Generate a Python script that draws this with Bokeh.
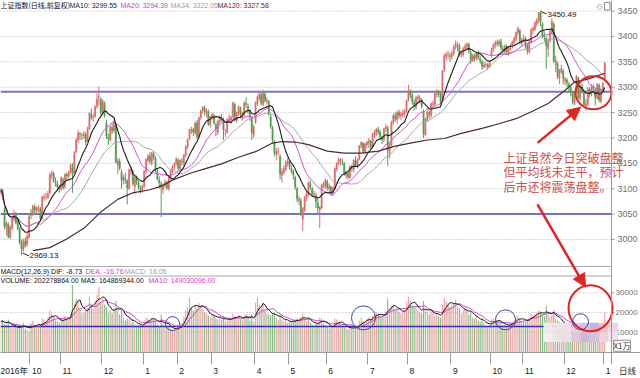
import pandas as pd
from bokeh.plotting import figure
from bokeh.models import (Range1d, FixedTicker, CustomJSTickFormatter, Span,
                          Arrow, NormalHead, Label, ColumnDataSource)
from bokeh.embed import file_html
from bokeh.resources import INLINE
from bokeh.core.properties import value

# ======================= DATA =======================
month_labels = ["2016年", "10", "11", "12", "1", "2", "3", "4", "5", "6",
                "7", "8", "9", "10", "11", "12", "1"]
month_counts = [16, 16, 22, 22, 18, 18, 23, 18, 20, 22, 21, 23, 21, 17, 22, 21, 1]
period_label = "日线"

opens = [
    3092, 3096, 3060, 3024, 3030, 3004, 3022, 3040, 3050, 3036, 3020, 2992, 2980, 2996, 2990, 3004,
    3052, 3050, 3064, 3056, 3060, 3060, 3042, 3082, 3084, 3082, 3092, 3126, 3130, 3114, 3110, 3102,
    3100, 3118, 3104, 3128, 3124, 3134, 3140, 3132, 3172, 3196, 3208, 3204, 3204, 3206, 3194, 3218, 3246, 3240, 3242, 3262, 3280, 3276,
    3250, 3268, 3230, 3202, 3196, 3220, 3214, 3226, 3146, 3154, 3132, 3116, 3120, 3116, 3100, 3136, 3134, 3104, 3120, 3112, 3098, 3098,
    3104, 3134, 3156, 3164, 3150, 3168, 3160, 3134, 3116, 3110, 3098, 3106, 3112, 3100, 3122, 3136, 3142, 3150,
    3156, 3140, 3154, 3150, 3166, 3182, 3198, 3214, 3216, 3210, 3230, 3204, 3240, 3254, 3258, 3250, 3252, 3226,
    3242, 3244, 3226, 3212, 3232, 3240, 3236, 3212, 3212, 3236, 3238, 3242, 3266, 3234, 3250, 3258, 3244, 3248, 3268, 3262, 3252, 3240, 3206,
    3230, 3268, 3278, 3284, 3266, 3286, 3272, 3272, 3242, 3220, 3192, 3168, 3172, 3164, 3126, 3132, 3138, 3150,
    3152, 3140, 3134, 3122, 3100, 3076, 3076, 3040, 3058, 3082, 3088, 3110, 3100, 3088, 3086, 3072, 3058, 3062, 3106, 3104,
    3114, 3100, 3104, 3090, 3100, 3138, 3150, 3156, 3154, 3150, 3126, 3130, 3122, 3142, 3138, 3156, 3144, 3158, 3184, 3190, 3172, 3186,
    3190, 3194, 3182, 3206, 3210, 3216, 3212, 3200, 3196, 3218, 3220, 3170, 3186, 3230, 3244, 3236, 3250, 3244, 3246, 3248, 3254,
    3274, 3290, 3284, 3270, 3260, 3278, 3278, 3274, 3252, 3206, 3236, 3250, 3244, 3266, 3266, 3286, 3290, 3286, 3276, 3334, 3360, 3364, 3362,
    3360, 3366, 3378, 3384, 3382, 3364, 3364, 3376, 3380, 3384, 3368, 3352, 3362, 3356, 3366, 3356, 3350, 3340, 3344, 3344, 3340,
    3362, 3374, 3382, 3388, 3384, 3390, 3376, 3370, 3380, 3366, 3376, 3380, 3388, 3394, 3408, 3412, 3386,
    3392, 3394, 3382, 3370, 3388, 3412, 3414, 3426, 3432, 3446, 3424, 3400, 3396, 3376, 3392, 3408, 3424, 3344, 3346, 3318, 3330, 3332,
    3312, 3314, 3306, 3300, 3290, 3268, 3290, 3318, 3278, 3302, 3288, 3264, 3266, 3296, 3286, 3300, 3294, 3278, 3304, 3272, 3294,
    3314,
]
highs = [
    3102, 3100, 3064, 3036, 3034, 3028, 3046, 3058, 3054, 3040, 3024, 3000, 3002, 3004, 3012, 3050,
    3060, 3068, 3070, 3066, 3068, 3064, 3086, 3090, 3092, 3096, 3132, 3136, 3134, 3122, 3116, 3108,
    3124, 3122, 3130, 3132, 3136, 3150, 3150, 3174, 3200, 3216, 3212, 3210, 3214, 3212, 3222, 3250, 3258, 3248, 3264, 3288, 3301, 3280,
    3276, 3272, 3236, 3208, 3224, 3228, 3236, 3228, 3160, 3160, 3138, 3128, 3132, 3118, 3140, 3144, 3138, 3124, 3126, 3116, 3106, 3108,
    3136, 3160, 3168, 3172, 3172, 3174, 3164, 3140, 3124, 3114, 3110, 3118, 3116, 3126, 3138, 3146, 3152, 3162,
    3160, 3158, 3160, 3168, 3186, 3198, 3218, 3222, 3220, 3232, 3236, 3242, 3256, 3262, 3264, 3258, 3256, 3244,
    3250, 3248, 3230, 3236, 3244, 3248, 3240, 3218, 3238, 3246, 3244, 3272, 3270, 3252, 3264, 3262, 3252, 3272, 3280, 3268, 3256, 3242, 3226,
    3272, 3284, 3292, 3290, 3295, 3290, 3280, 3274, 3248, 3224, 3196, 3180, 3182, 3168, 3140, 3146, 3156, 3160,
    3156, 3146, 3138, 3126, 3104, 3086, 3082, 3064, 3086, 3094, 3114, 3116, 3104, 3096, 3092, 3080, 3066, 3110, 3114, 3120,
    3118, 3110, 3106, 3104, 3142, 3152, 3162, 3160, 3160, 3152, 3136, 3134, 3146, 3148, 3158, 3164, 3160, 3186, 3194, 3192, 3190, 3194,
    3200, 3196, 3210, 3216, 3220, 3222, 3216, 3204, 3220, 3228, 3224, 3192, 3234, 3248, 3250, 3254, 3256, 3252, 3256, 3258, 3276,
    3305, 3296, 3290, 3276, 3282, 3286, 3284, 3278, 3256, 3240, 3254, 3254, 3270, 3274, 3290, 3296, 3294, 3290, 3334, 3366, 3370, 3372, 3368,
    3372, 3384, 3392, 3390, 3386, 3372, 3380, 3386, 3388, 3388, 3372, 3366, 3366, 3370, 3372, 3362, 3354, 3350, 3350, 3348, 3352,
    3378, 3386, 3392, 3394, 3394, 3396, 3382, 3384, 3384, 3380, 3386, 3392, 3400, 3410, 3420, 3414, 3398,
    3404, 3400, 3386, 3392, 3416, 3420, 3430, 3436, 3448, 3450.49, 3428, 3410, 3400, 3396, 3414, 3436, 3428, 3362, 3350, 3336, 3344, 3336,
    3320, 3318, 3310, 3304, 3292, 3292, 3324, 3320, 3306, 3306, 3292, 3276, 3300, 3300, 3306, 3306, 3298, 3308, 3308, 3298, 3310,
    3349,
]
lows = [
    3086, 3078, 3020, 3008, 3002, 3000, 3018, 3036, 3030, 3018, 2990, 2969.13, 2976, 2984, 2986, 3002,
    3040, 3046, 3052, 3050, 3054, 3036, 3040, 3076, 3078, 3080, 3090, 3120, 3112, 3104, 3096, 3092,
    3096, 3098, 3100, 3118, 3120, 3130, 3092, 3130, 3170, 3190, 3196, 3196, 3198, 3186, 3192, 3216, 3236, 3232, 3240, 3258, 3264, 3244,
    3246, 3240, 3198, 3186, 3194, 3208, 3210, 3150, 3128, 3136, 3100, 3108, 3110, 3069, 3098, 3128, 3106, 3090, 3108, 3098, 3090, 3092,
    3102, 3130, 3152, 3148, 3146, 3156, 3132, 3116, 3100, 3044, 3090, 3102, 3098, 3096, 3118, 3130, 3138, 3146,
    3136, 3136, 3146, 3144, 3162, 3178, 3196, 3208, 3204, 3206, 3198, 3200, 3236, 3248, 3244, 3240, 3224, 3220,
    3236, 3226, 3204, 3206, 3226, 3232, 3196, 3202, 3208, 3230, 3228, 3240, 3232, 3230, 3244, 3240, 3234, 3242, 3260, 3248, 3234, 3196, 3200,
    3228, 3264, 3274, 3264, 3262, 3270, 3266, 3244, 3218, 3190, 3164, 3156, 3166, 3118, 3112, 3128, 3134, 3144,
    3138, 3130, 3118, 3098, 3074, 3068, 3046, 3016, 3054, 3076, 3084, 3098, 3084, 3080, 3062, 3052, 3022, 3060, 3100, 3100,
    3096, 3092, 3086, 3086, 3098, 3134, 3146, 3146, 3146, 3126, 3120, 3118, 3120, 3134, 3132, 3144, 3140, 3156, 3180, 3170, 3168, 3180,
    3180, 3176, 3180, 3200, 3204, 3206, 3196, 3188, 3192, 3212, 3145, 3160, 3184, 3226, 3232, 3228, 3238, 3236, 3240, 3240, 3250,
    3272, 3278, 3266, 3254, 3256, 3272, 3268, 3258, 3200, 3204, 3232, 3238, 3240, 3258, 3262, 3280, 3280, 3266, 3274, 3330, 3352, 3356, 3350,
    3354, 3362, 3374, 3370, 3360, 3358, 3360, 3370, 3374, 3366, 3346, 3350, 3350, 3352, 3354, 3346, 3334, 3336, 3338, 3334, 3338,
    3358, 3370, 3376, 3380, 3380, 3372, 3364, 3366, 3364, 3362, 3372, 3376, 3384, 3390, 3402, 3384, 3380,
    3388, 3376, 3364, 3366, 3386, 3404, 3410, 3420, 3426, 3420, 3396, 3390, 3336, 3360, 3388, 3404, 3348, 3330, 3316, 3306, 3326, 3306,
    3304, 3300, 3290, 3282, 3266, 3264, 3288, 3276, 3274, 3288, 3262, 3254, 3262, 3280, 3282, 3290, 3264, 3276, 3270, 3268, 3292,
    3312,
]
closes = [
    3098, 3082, 3026, 3032, 3006, 3024, 3042, 3052, 3034, 3022, 2994, 2982, 2998, 2988, 3006, 3046,
    3048, 3066, 3058, 3061, 3063, 3041, 3084, 3084, 3084, 3090, 3128, 3131, 3116, 3112, 3104, 3100,
    3122, 3102, 3129, 3125, 3133, 3147, 3128, 3171, 3196, 3210, 3207, 3205, 3208, 3192, 3218, 3249, 3241, 3241, 3262, 3277, 3282, 3250,
    3273, 3244, 3204, 3199, 3222, 3215, 3233, 3152, 3155, 3140, 3117, 3123, 3118, 3102, 3137, 3139, 3110, 3122, 3114, 3102, 3096, 3104,
    3135, 3158, 3165, 3154, 3171, 3161, 3136, 3119, 3112, 3103, 3108, 3113, 3101, 3123, 3136, 3142, 3149, 3159,
    3140, 3156, 3153, 3167, 3183, 3197, 3216, 3217, 3212, 3229, 3202, 3240, 3253, 3261, 3252, 3253, 3228, 3242,
    3246, 3230, 3218, 3233, 3242, 3240, 3216, 3212, 3237, 3239, 3241, 3269, 3237, 3250, 3262, 3246, 3248, 3269, 3266, 3253, 3241, 3210, 3222,
    3270, 3281, 3287, 3269, 3288, 3274, 3275, 3247, 3222, 3196, 3171, 3173, 3173, 3129, 3134, 3140, 3152, 3155,
    3143, 3135, 3127, 3103, 3080, 3080, 3052, 3061, 3083, 3090, 3112, 3104, 3090, 3090, 3075, 3062, 3064, 3107, 3110, 3117,
    3102, 3105, 3092, 3102, 3140, 3150, 3158, 3157, 3153, 3130, 3132, 3123, 3144, 3140, 3156, 3147, 3157, 3185, 3191, 3174, 3188, 3192,
    3195, 3183, 3207, 3212, 3217, 3212, 3203, 3197, 3218, 3222, 3176, 3187, 3231, 3244, 3238, 3250, 3244, 3247, 3249, 3253, 3273,
    3292, 3285, 3272, 3262, 3280, 3281, 3276, 3262, 3208, 3237, 3251, 3246, 3268, 3268, 3287, 3290, 3287, 3271, 3332, 3362, 3365, 3364, 3361,
    3367, 3379, 3385, 3385, 3366, 3366, 3376, 3380, 3385, 3371, 3353, 3362, 3357, 3366, 3358, 3352, 3341, 3344, 3345, 3340, 3349,
    3374, 3383, 3388, 3386, 3391, 3378, 3372, 3381, 3370, 3378, 3380, 3388, 3396, 3408, 3416, 3390, 3393,
    3396, 3384, 3372, 3389, 3413, 3416, 3427, 3432, 3447, 3429, 3402, 3399, 3382, 3392, 3410, 3430, 3351, 3353, 3322, 3333, 3337, 3317,
    3317, 3309, 3303, 3293, 3272, 3289, 3322, 3280, 3303, 3292, 3266, 3267, 3297, 3287, 3300, 3297, 3280, 3306, 3275, 3296, 3307,
    3348,
]
# volume, unit: 10 000 (x1万)
volumes = [
    15500, 16000, 14000, 13800, 16500, 13000, 12000, 12500, 12800, 12000, 13500, 12600, 14800, 11800, 11000, 10800,
    14500, 15800, 13800, 12500, 13000, 14000, 17000, 16500, 15000, 17500, 21000, 19500, 17800, 16000, 15500, 14800,
    17000, 16500, 18000, 16500, 17800, 19000, 34000, 24500, 27000, 25000, 21500, 19500, 20000, 21000, 22500, 28000, 24500, 22000, 26000, 29000, 33000, 25000,
    27000, 24000, 23000, 20000, 21000, 19500, 22000, 26000, 22000, 19000, 21500, 17500, 16000, 17000, 16500, 15000, 16500, 14000, 13500, 13000, 14000, 13200,
    16000, 17500, 17000, 16000, 17500, 16500, 16000, 14000, 13000, 19000, 14500, 13500, 12500, 13000, 12000, 11500, 11000, 11800,
    12500, 14500, 15000, 18000, 21000, 22500, 27500, 23000, 21000, 24000, 22500, 25000, 23500, 22000, 20500, 19500, 18500, 17500,
    19000, 18500, 17000, 16500, 17500, 16500, 18000, 15500, 16000, 17000, 16500, 19500, 18000, 17000, 18500, 17000, 16000, 18500, 19000, 17500, 16000, 19000, 15500,
    25000, 27500, 24000, 22500, 24500, 21000, 19500, 19000, 18500, 19500, 20000, 17500, 16000, 18500, 16500, 15500, 16000, 15000,
    15500, 15000, 16000, 16500, 17000, 16000, 17500, 19500, 17000, 15500, 17000, 15000, 14000, 13500, 14500, 15000, 17500, 17000, 14500, 13500,
    13000, 12000, 12500, 13000, 17000, 16500, 15000, 14000, 13500, 13000, 12000, 11500, 12500, 12000, 13000, 12500, 12000, 16000, 17500, 15500, 15000, 16500,
    17500, 17000, 18500, 19000, 20000, 19500, 18500, 17500, 19000, 20500, 27000, 22000, 23500, 24000, 21500, 22000, 20500, 19500, 20000, 21000, 25500,
    28000, 26000, 24000, 23000, 22500, 21000, 20000, 19500, 26000, 21500, 20500, 19000, 21000, 19500, 18500, 19500, 18000, 17500, 24000, 27500, 26000, 24500, 23000,
    24000, 25000, 26500, 23000, 22000, 19500, 21000, 22500, 21500, 19000, 20000, 17500, 17000, 18000, 16000, 15500, 16500, 14500, 13500, 13000, 14000,
    16500, 17000, 16000, 15500, 15000, 14500, 13500, 14000, 13000, 13500, 14500, 15500, 16000, 17500, 18500, 16500, 15500,
    16000, 15500, 16500, 17500, 19500, 18500, 19000, 20000, 21000, 20500, 19000, 18000, 23500, 19500, 18000, 19000, 21000, 17000, 16000, 15500, 14500, 14000,
    13500, 13000, 12800, 13500, 14500, 13000, 14500, 14000, 12500, 12000, 13000, 12500, 13500, 12000, 12500, 11500, 11800, 12500, 13500, 12000, 12800,
    20228,
]
# MA120 line (day index, value)
ma120_idx = [17, 26, 35, 44, 53, 62, 70, 79, 85, 91, 100, 108, 117, 126, 135, 144, 149, 156, 163, 173,
             182, 191, 200, 208, 217, 226, 235, 244, 255, 264, 273, 282, 290, 299, 304, 311, 320]
ma120_val = [2978, 2984, 3001, 3022, 3054, 3079, 3092, 3098, 3105, 3117, 3130, 3139, 3149, 3162, 3173, 3190,
             3193, 3192, 3187, 3174, 3170, 3170, 3174, 3183, 3190, 3196, 3199, 3209, 3219, 3228, 3238, 3253,
             3268, 3294, 3310, 3316, 3327.58]
level_hi = 3291      # upper horizontal line
level_lo = 3050      # lower horizontal line
vol_level = 12900    # horizontal line in volume panel
price_ticks = [3000, 3050, 3100, 3150, 3200, 3250, 3300, 3350, 3400, 3450]
vol_ticks = [10000, 20000, 30000]
peak_text = "3450.49"
low_text = "2969.13"

# ======================= LAYOUT =======================
W, H = 640, 378
PW, FH = 611, 366              # right edge of plotting area, frame height
X0, DX = 0.24, 1.8875          # pixel of day 0, pixels per day
PY0, PK = 248.5, 0.5278        # pixel of price 3000, pixels per point
VB, VK = 365.5, 20.5 / 10000.0 # pixel of volume 0, pixels per unit


def xd(px):
    return (px - X0) / DX


def yd(py):
    return 3000.0 + (PY0 - py) / PK


def vd(py):
    return (VB - py) / VK


n = min(len(opens), len(highs), len(lows), len(closes), len(volumes))
idx = list(range(n))
UP, DN = "#e06c6c", "#4f9f4f"
VUP, VDN = "#eca3a3", "#86bf86"
up = [closes[k] >= opens[k] for k in idx]
AXC = "#9a9a9a"

p = figure(width=W, height=H, output_backend="svg", toolbar_location=None,
           x_range=Range1d(xd(0), xd(W)), y_range=Range1d(yd(FH), yd(0)),
           y_axis_location=None, min_border_left=0, min_border_top=0,
           min_border_right=0, min_border_bottom=H - FH,
           outline_line_color=None, background_fill_color="white",
           border_fill_color="white")
p.extra_y_ranges = {"vol": Range1d(vd(FH), vd(0))}
p.xgrid.visible = False
p.ygrid.visible = False

# ---- bottom (time) axis ----
starts = [sum(month_counts[:k]) for k in range(len(month_counts))]
bounds = [s - 0.5 for s in starts[1:]] + [xd(PW)]
label_pos = [xd(10)] + [s - 0.5 + (2 + 2.4 * len(lab)) / DX
                        for s, lab in zip(starts[1:], month_labels[1:])] + [xd(627)]
all_labels = month_labels + [period_label]
xa = p.xaxis[0]
xa.ticker = FixedTicker(ticks=label_pos, minor_ticks=bounds)
xa.formatter = CustomJSTickFormatter(args=dict(t=label_pos, lab=all_labels), code="""
let b = 0; let d = 1e9;
for (let k = 0; k < t.length; k++) { const e = Math.abs(tick - t[k]); if (e < d) { d = e; b = k; } }
return lab[b];
""")
xa.major_tick_out = 0
xa.major_tick_in = 0
xa.minor_tick_out = 12
xa.minor_tick_in = 0
xa.minor_tick_line_color = AXC
xa.axis_line_color = AXC
xa.major_label_text_font_size = "8.5px"
xa.major_label_standoff = 1
xa.major_label_text_color = "#202020"
xa.major_label_text_font = "Liberation Sans, Noto Sans CJK SC"

# ---- right value scale (drawn inside the canvas so nothing gets clipped) ----
vol_tick_pos = [yd(VB - v * VK) for v in vol_ticks]
p.add_layout(Span(location=xd(PW), dimension="height", line_color=AXC, line_width=1))
grid_y = price_ticks + vol_tick_pos
p.segment(x0=[xd(0)] * len(grid_y), x1=[xd(PW)] * len(grid_y), y0=grid_y, y1=grid_y,
          line_color="#b4b4b4", line_dash="1 2", line_width=1)
p.segment(x0=[xd(PW)] * len(grid_y), x1=[xd(PW + 3)] * len(grid_y), y0=grid_y, y1=grid_y,
          line_color=AXC, line_width=1)
p.text(x=[xd(617)] * len(price_ticks), y=price_ticks, text=[str(t) for t in price_ticks],
       text_color="#707070", text_font=value("Liberation Sans"), text_font_size="9px",
       text_baseline="middle", text_align="left")
p.text(x=[xd(615)] * len(vol_ticks), y=vol_ticks, y_range_name="vol",
       text=[str(t) for t in vol_ticks], text_color="#707070",
       text_font=value("Liberation Sans"), text_font_size="8px",
       text_baseline="middle", text_align="left")

# ---- horizontal lines ----
p.segment(x0=[xd(0)], x1=[xd(PW)], y0=[level_hi], y1=[level_hi], line_color="#7674cc", line_width=2)
p.segment(x0=[xd(0)], x1=[xd(PW)], y0=[level_lo], y1=[level_lo], line_color="#4a4ab6", line_width=1.5)
for sy in (276.5, 286.5):
    p.segment(x0=[xd(0)], x1=[xd(PW)], y0=[yd(sy)], y1=[yd(sy)], line_color="#a8a8a8", line_width=1)

# ---- candles ----
cs = ColumnDataSource(dict(
    x=idx, o=opens[:n], h=highs[:n], l=lows[:n], c=closes[:n],
    top=[max(opens[k], closes[k]) for k in idx],
    bot=[min(opens[k], closes[k]) for k in idx],
    col=[UP if u else DN for u in up],
    vol=volumes[:n], vcol=[VUP if u else VDN for u in up]))
p.segment(x0="x", y0="l", x1="x", y1="h", line_color="col", line_width=1, source=cs)
p.vbar(x="x", width=0.72, top="top", bottom="bot", fill_color="col",
       line_color="col", line_width=0.4, source=cs)

# ---- price moving averages ----
s = pd.Series(closes[:n], dtype=float)
p.line(idx, s.rolling(34, min_periods=1).mean(), line_color="#a6a6a6", line_width=1)
p.line(idx, s.rolling(20, min_periods=1).mean(), line_color="#d050d0", line_width=1)
p.line(idx, s.rolling(10, min_periods=1).mean(), line_color="#1c1c1c", line_width=1.1)
p.line(ma120_idx, ma120_val, line_color="#4e2a2a", line_width=1.2)

# ---- volume ----
p.vbar(x="x", width=0.62, top="vol", bottom=0, fill_color="vcol", line_color=None,
       y_range_name="vol", source=cs)
p.segment(x0=[xd(0)], x1=[xd(PW)], y0=[vol_level], y1=[vol_level], y_range_name="vol",
          line_color="#3434b0", line_width=1.5)
v = pd.Series(volumes[:n], dtype=float)
p.line(idx, v.rolling(10, min_periods=1).mean(), line_color="#cc44cc", line_width=1, y_range_name="vol")
p.line(idx, v.rolling(5, min_periods=1).mean(), line_color="#1c1c1c", line_width=1, y_range_name="vol")


# ---- header texts ----
def txt(px, py, t, color, size="7px", font="Liberation Sans"):
    p.text(x=[xd(px)], y=[yd(py)], text=[t], text_color=color, text_font=value(font),
           text_font_size=size, text_baseline="middle", text_align="left")


txt(0, 5, "上证指数(日线,前复权)", "#111111", "7px", "Noto Sans CJK SC")
txt(69, 5, "MA10: 3299.55", "#1a1a3a")
txt(120, 5, "MA20: 3294.39", "#d040d0")
txt(170, 5, "MA34: 3322.05", "#a0a0a0")
txt(217, 5, "MA120: 3327.58", "#6a2040")
txt(0, 281.7, "MACD(12,26,9) DIF: -8.73", "#111111")
txt(85, 281.7, "DEA: -16.76", "#d040d0")
txt(124, 281.7, "MACD: 16.05", "#a0a0a0")
txt(0, 291, "VOLUME: 202278864.00 MA5: 164869344.00", "#111111")
txt(148, 291, "MA10: 149030096.00", "#d040d0")
txt(29, 265.5, low_text, "#111111", "8px")
txt(547, 15, peak_text, "#111111", "8px")
p.segment(x0=[xd(22), xd(540.5)], y0=[yd(262.5), yd(11.5)], x1=[xd(28.5), xd(546)],
          y1=[yd(265.5), yd(14)], line_color="#222222", line_width=1)
txt(596, 6, "◇", "#888888", "8px", "DejaVu Sans")
p.quad(left=[xd(604)], right=[xd(609.5)], top=[yd(2)], bottom=[yd(10)],
       fill_color=None, line_color="#888888", line_width=1)

# ---- mosaic (blurred region) ----
mos_cols = ["#efeaec", "#e9e3e6", "#f1dfe5", "#e6d0dc", "#d9c2dc", "#c8b2d6", "#e2c6d4", "#eed6de",
            "#f3f1f2", "#e8e4e7", "#eedde3", "#dcc8da", "#cdb9d8", "#d8c0d8", "#efd2dc", "#f3e4ea"]
for k, col in enumerate(mos_cols):
    cx, cy = k % 8, k // 8
    p.quad(left=[xd(543 + cx * 9.3)], right=[xd(543 + (cx + 1) * 9.3)],
           top=[yd(335 + cy * 10)], bottom=[yd(345 + cy * 10)],
           fill_color=col, line_color=None)

# ---- annotations ----
RED = "#e02424"
p.ellipse(x=[xd(593)], y=[yd(96)], width=36, height=33, width_units="screen",
          height_units="screen", fill_color=None, line_color=RED, line_width=2)
p.ellipse(x=[xd(590)], y=[yd(320)], width=44, height=46, width_units="screen",
          height_units="screen", fill_color=None, line_color=RED, line_width=2)
for (bx, by, r) in [(172, 336, 7), (363, 330, 12), (505, 332, 10), (580, 334, 8)]:
    p.ellipse(x=[xd(bx)], y=[yd(by)], width=2 * r, height=2 * r, width_units="screen",
              height_units="screen", fill_color=None, line_color="#3a48a8", line_width=1)
p.add_layout(Arrow(end=NormalHead(size=13, fill_color=RED, line_color=RED),
                   x_start=xd(537), y_start=yd(148), x_end=xd(580), y_end=yd(111),
                   line_color=RED, line_width=2.5))
p.add_layout(Arrow(end=NormalHead(size=13, fill_color=RED, line_color=RED),
                   x_start=xd(537), y_start=yd(212), x_end=xd(585), y_end=yd(298),
                   line_color=RED, line_width=2.5))
for k, t in enumerate(["上证虽然今日突破盘整", "但平均线未走平，预计", "后市还将震荡盘整。"]):
    p.add_layout(Label(x=xd(503), y=yd(163 + 15 * k), text=t, text_font="Noto Sans CJK SC",
                       text_font_size="12px", text_color="#c8504c", text_baseline="middle",
                       text_align="left"))
p.add_layout(Label(x=xd(613), y=yd(359), text="X1万", text_font="Noto Sans CJK SC",
                   text_font_size="8px", text_color="#333333", text_baseline="middle",
                   text_align="left", border_line_color="#909090"))

open("out.html", "w").write(file_html(p, INLINE))
